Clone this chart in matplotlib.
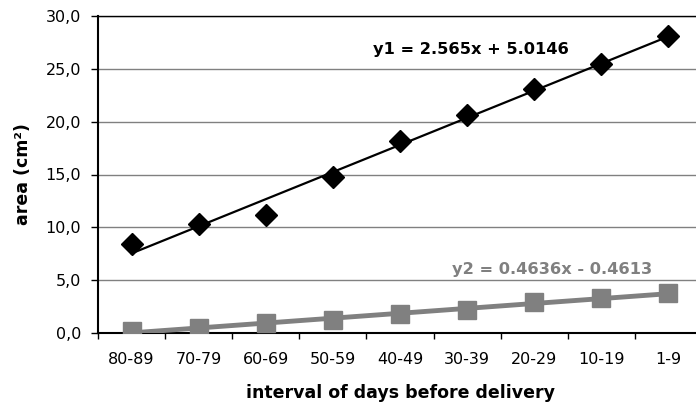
import matplotlib
matplotlib.use('Agg')
import matplotlib.pyplot as plt
import numpy as np

# intervalli di giorni prima del parto
intervals = ['80-89', '70-79', '60-69', '50-59', '40-49', '30-39', '20-29', '10-19', '1-9']
area1 = [8.4, 10.3, 11.2, 14.8, 18.2, 20.6, 23.1, 25.5, 28.1]
area2 = [0.2, 0.5, 0.9, 1.2, 1.8, 2.2, 2.9, 3.3, 3.8]
eq1 = 'y1 = 2.565x + 5.0146'
eq2 = 'y2 = 0.4636x - 0.4613'

plt.rcParams['font.family'] = ['DejaVu Sans']

x = np.arange(len(intervals))
xx = x + 1  # excel conta da 1

fig = plt.figure(figsize=(6.96, 4.08), dpi=100)
ax = fig.add_axes([98 / 696, 75 / 408, 604 / 696, 317 / 408])

gray = '#808080'

# linee di tendenza
p1 = np.polyfit(xx, area1, 1)
p2 = np.polyfit(xx, area2, 1)
ax.plot(x, np.polyval(p1, xx), color='black', lw=1.6, zorder=3)
ax.plot(x, np.polyval(p2, xx), color=gray, lw=3.5, zorder=3)

ax.plot(x, area1, ls='none', marker='D', ms=11, color='black', zorder=4)
ax.plot(x, area2, ls='none', marker='s', ms=13, color=gray, zorder=4)

ax.text(3.6, 26.8, eq1, fontsize=11.7, fontweight='bold', color='black', va='center')
ax.text(4.77, 6.05, eq2, fontsize=11.7, fontweight='bold', color=gray, va='center')

ax.set_xlim(-0.5, len(intervals) - 0.5)
ax.set_ylim(0, 30)
ax.set_yticks(np.arange(0, 31, 5))
ax.set_yticklabels([('%.1f' % v).replace('.', ',') for v in np.arange(0, 31, 5)])
ax.set_xticks(x)
ax.set_xticklabels(intervals)
ax.set_xticks(np.arange(-0.5, len(intervals)), minor=True)
ax.tick_params(axis='x', which='major', length=0, pad=14, labelsize=11.5)
ax.tick_params(axis='x', which='minor', length=4, width=1, direction='out')
ax.tick_params(axis='y', length=5, width=1, pad=7, labelsize=11.5)

ax.grid(axis='y', color=gray, lw=1)
ax.set_axisbelow(True)
for s in ['left', 'bottom']:
    ax.spines[s].set_linewidth(1.5)
ax.spines['top'].set_linewidth(1)
ax.spines['right'].set_visible(False)

ax.set_xlabel('interval of days before delivery', fontsize=12.5, fontweight='bold', labelpad=12)
ax.set_ylabel('area (cm²)', fontsize=12.5, fontweight='bold', labelpad=10)

fig.savefig('out.png', dpi=100)
